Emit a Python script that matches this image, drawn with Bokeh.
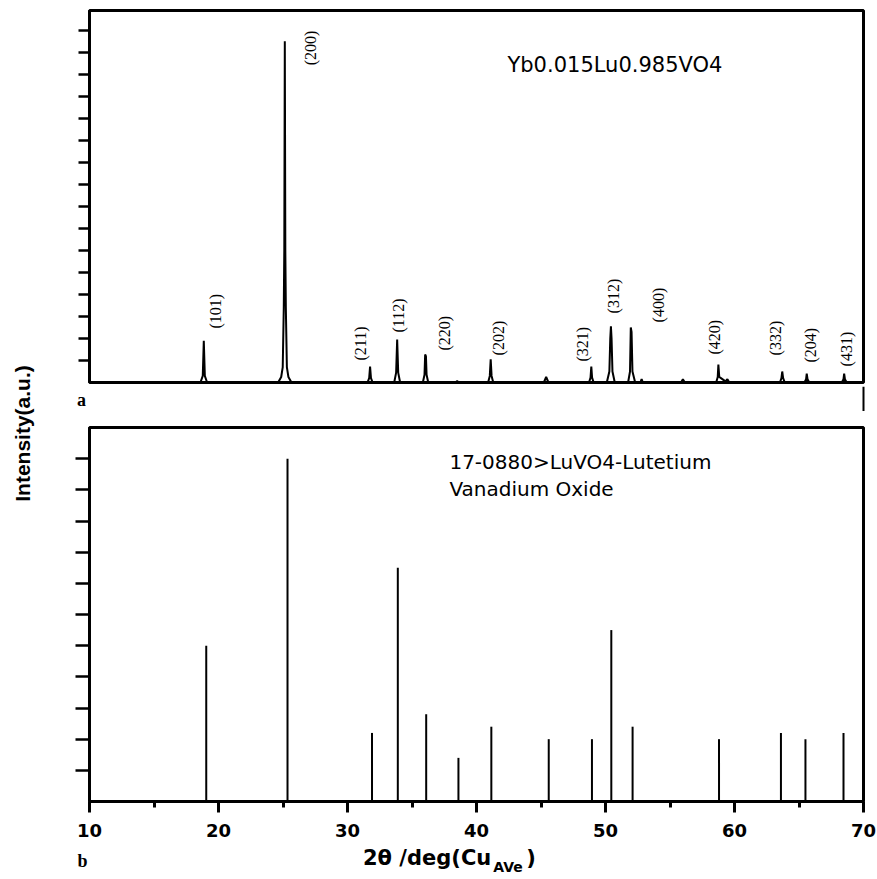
from math import pi
from bokeh.plotting import figure
from bokeh.layouts import row, column
from bokeh.models import Range1d, FixedTicker, CustomJSTickFormatter
from bokeh.core.properties import value
from bokeh.embed import file_html
from bokeh.resources import INLINE

# ---------------- data ----------------
# (a) measured XRD profile of Yb0.015Lu0.985VO4 (2theta in degrees, intensity a.u.)
two_theta_a = [10.0,
               18.60, 18.78, 18.86, 18.94, 19.12,
               24.62, 24.86, 24.98, 25.06, 25.10, 25.14, 25.18, 25.22, 25.30, 25.42, 25.66,
               31.55, 31.68, 31.75, 31.82, 31.95,
               33.62, 33.77, 33.85, 33.93, 34.08,
               35.84, 35.97, 36.02, 36.08, 36.13, 36.26,
               38.35, 38.50, 38.65,
               40.90, 41.03, 41.10, 41.17, 41.30,
               45.22, 45.40, 45.58,
               48.72, 48.84, 48.90, 48.96, 49.08,
               50.10, 50.30, 50.37, 50.42, 50.47, 50.54, 50.72,
               51.75, 51.90, 51.96, 52.02, 52.09, 52.30,
               52.70, 52.80, 52.90,
               55.85, 56.00, 56.15,
               58.58, 58.70, 58.75, 58.82, 58.95, 59.30, 59.45, 59.60,
               63.52, 63.64, 63.70, 63.77, 63.90,
               65.42, 65.55, 65.60, 65.66, 65.80,
               68.32, 68.45, 68.50, 68.56, 68.70,
               70.0]
intensity_a = [0.0,
               0.0, 0.30, 1.90, 0.30, 0.0,
               0.0, 0.25, 0.70, 3.40, 6.00, 15.50, 6.00, 3.40, 0.70, 0.25, 0.0,
               0.0, 0.20, 0.72, 0.20, 0.0,
               0.0, 0.45, 1.95, 0.45, 0.0,
               0.0, 0.35, 1.27, 1.20, 0.35, 0.0,
               0.0, 0.06, 0.0,
               0.0, 0.30, 1.05, 0.30, 0.0,
               0.0, 0.25, 0.0,
               0.0, 0.22, 0.72, 0.22, 0.0,
               0.0, 0.50, 2.00, 2.55, 2.00, 0.50, 0.0,
               0.0, 0.50, 2.50, 2.30, 0.50, 0.0,
               0.0, 0.15, 0.0,
               0.0, 0.15, 0.0,
               0.0, 0.25, 0.82, 0.25, 0.20, 0.05, 0.15, 0.0,
               0.0, 0.20, 0.50, 0.20, 0.0,
               0.0, 0.15, 0.40, 0.15, 0.0,
               0.0, 0.15, 0.40, 0.15, 0.0,
               0.0]

# Miller-index labels of panel (a)
hkl = ["(101)", "(200)", "(211)", "(112)", "(220)", "(202)", "(321)",
       "(312)", "(400)", "(420)", "(332)", "(204)", "(431)"]
hkl_x = [19.77, 27.13, 31.0, 33.95, 37.5, 41.7, 48.2, 50.6, 54.1, 58.45, 63.2, 65.9, 68.7]
hkl_y = [2.45, 14.41, 1.0, 2.27, 1.45, 1.23, 0.95, 3.14, 2.73, 1.27, 1.23, 0.91, 0.73]

# (b) JCPDS 17-0880 LuVO4 reference lines
two_theta_b = [19.05, 25.35, 31.9, 33.9, 36.1, 38.6, 41.15, 45.6, 48.95, 50.45,
               52.1, 58.8, 63.6, 65.5, 68.45]
intensity_b = [5.0, 11.0, 2.2, 7.5, 2.8, 1.4, 2.4, 2.0, 2.0, 5.5,
               2.4, 2.0, 2.2, 2.0, 2.2]

x_ticks = [10, 20, 30, 40, 50, 60, 70]
x_minor = [15, 25, 35, 45, 55, 65]
ya_ticks = list(range(1, 17))
yb_ticks = list(range(1, 12))

SANS = "DejaVu Sans"
SERIF = "Liberation Serif"
BOLD_SANS = "Liberation Sans"

COL_W = 819              # width of the right-hand column
EXT_X = (7.597, 71.085)  # 2theta range spanning the full column width (helper strips)


def bare(width, height, xr, yr):
    f = figure(width=width, height=height, x_range=Range1d(*xr), y_range=Range1d(*yr),
               output_backend="svg", toolbar_location=None,
               x_axis_location=None, y_axis_location=None,
               min_border_left=0, min_border_right=0, min_border_top=0, min_border_bottom=0)
    f.grid.visible = False
    f.outline_line_color = None
    f.background_fill_color = "white"
    f.border_fill_color = "white"
    return f


blank = CustomJSTickFormatter(code="return ''")

# ---------------- panel (a) ----------------
p1 = figure(width=COL_W, height=386, x_range=Range1d(10, 70), y_range=Range1d(0, 16.9),
            output_backend="svg", toolbar_location=None,
            min_border_left=31, min_border_right=14, min_border_top=10, min_border_bottom=4)
p1.xaxis.visible = False
p1.grid.visible = False
p1.background_fill_color = "white"
p1.border_fill_color = "white"
p1.outline_line_color = "black"
p1.outline_line_width = 3
p1.outline_line_alpha = 1
ya = p1.yaxis[0]
ya.ticker = FixedTicker(ticks=ya_ticks, minor_ticks=[])
ya.formatter = blank
ya.major_tick_out = 11
ya.major_tick_in = 0
ya.minor_tick_out = 0
ya.minor_tick_in = 0
ya.major_tick_line_width = 2.5
ya.axis_line_width = 3

p1.line(two_theta_a, intensity_a, line_color="black", line_width=2)
p1.text(x=hkl_x, y=hkl_y, text=hkl, angle=pi / 2, text_align="left",
        text_baseline="middle", text_font=value(SERIF), text_font_size="16px",
        text_color="black")
p1.text(x=[42.4], y=[14.41], text=["Yb0.015Lu0.985VO4"], text_font=value(SANS),
        text_font_size="21px", text_baseline="middle", text_color="black")

# ---------------- strip between panels: "a" and the tail of the right border ----------------
pa = bare(COL_W, 25, EXT_X, (0, 25))
pa.text(x=[9.38], y=[12], text=["a"], text_font=value(SERIF), text_font_style="bold",
        text_font_size="18px", text_align="center", text_baseline="middle", text_color="black")
pa.segment(x0=[70.0], y0=[25], x1=[70.0], y1=[0], line_color="black", line_width=2)

# ---------------- panel (b) ----------------
p2 = figure(width=COL_W, height=430, x_range=p1.x_range, y_range=Range1d(0, 12),
            output_backend="svg", toolbar_location=None,
            min_border_left=31, min_border_right=14, min_border_top=16, min_border_bottom=40)
p2.grid.visible = False
p2.background_fill_color = "white"
p2.border_fill_color = "white"
p2.outline_line_color = "black"
p2.outline_line_width = 3
p2.outline_line_alpha = 1

xb = p2.xaxis[0]
xb.ticker = FixedTicker(ticks=x_ticks, minor_ticks=x_minor)
xb.major_tick_out = 11
xb.major_tick_in = 0
xb.minor_tick_out = 6
xb.minor_tick_in = 0
xb.major_tick_line_width = 3
xb.minor_tick_line_width = 3
xb.axis_line_width = 3
xb.major_label_standoff = 11
xb.major_label_text_font = SANS
xb.major_label_text_font_style = "bold"
xb.major_label_text_font_size = "18px"
xb.major_label_text_color = "black"

yb = p2.yaxis[0]
yb.ticker = FixedTicker(ticks=yb_ticks, minor_ticks=[])
yb.formatter = blank
yb.major_tick_out = 14
yb.major_tick_in = 0
yb.minor_tick_out = 0
yb.minor_tick_in = 0
yb.major_tick_line_width = 2.5
yb.axis_line_width = 3

p2.segment(x0=two_theta_b, y0=[0] * len(two_theta_b), x1=two_theta_b, y1=intensity_b,
           line_color="black", line_width=2)
p2.text(x=[37.9, 37.9], y=[10.88, 10.04], text=["17-0880>LuVO4-Lutetium", "Vanadium Oxide"],
        text_font=value(SANS), text_font_size="20px", text_baseline="middle",
        text_color="black")

# ---------------- strip below panel (b): "b" and the x-axis title ----------------
p3 = bare(COL_W, 37, EXT_X, (0, 37))
p3.text(x=[9.46], y=[18], text=["b"], text_font=value(SERIF), text_font_style="bold",
        text_font_size="18px", text_align="center", text_baseline="middle", text_color="black")
p3.text(x=[31.2], y=[21], text=["2θ /deg(Cu"], text_font=value(SANS),
        text_font_style="bold", text_font_size="21px", text_baseline="alphabetic",
        text_color="black")
p3.text(x=[41.3], y=[12], text=["AVe"], text_font=value(SANS), text_font_style="bold",
        text_font_size="14px", text_baseline="alphabetic", text_color="black")
p3.text(x=[43.85], y=[21], text=[")"], text_font=value(SANS), text_font_style="bold",
        text_font_size="21px", text_baseline="alphabetic", text_color="black")

# ---------------- shared y label ----------------
pl = bare(58, 878, (0, 58), (0, 878))
pl.text(x=[22], y=[445], text=["Intensity(a.u.)"], angle=pi / 2,
        text_align="center", text_baseline="middle", text_font=value(BOLD_SANS),
        text_font_style="bold", text_font_size="21px", text_color="black")

layout = row(pl, column(p1, row(pa), p2, row(p3)))
open("out.html", "w").write(file_html(layout, INLINE))
